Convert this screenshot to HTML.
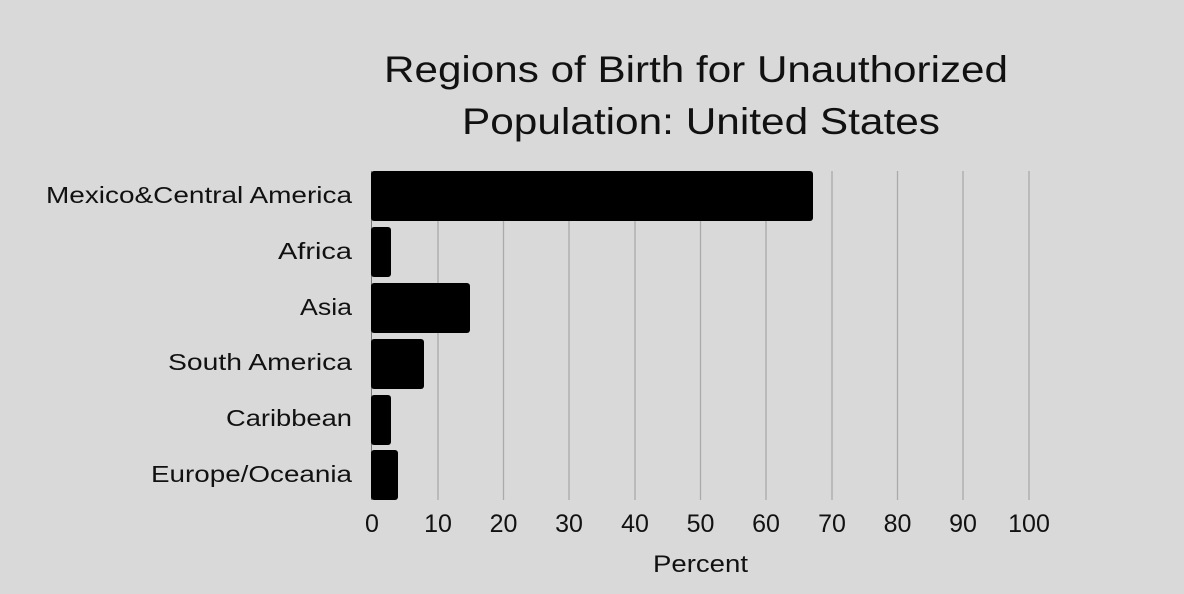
<!DOCTYPE html>
<html><head><style>
body{margin:0;background:#d9d9d9;}
svg{display:block;font-family:"Liberation Sans",sans-serif;}
</style></head><body>
<svg width="1184" height="594" viewBox="0 0 1184 594">
<rect width="1184" height="594" fill="#d9d9d9"/>
<text x="384" y="82" font-size="37" fill="#111" textLength="624" lengthAdjust="spacingAndGlyphs">Regions of Birth for Unauthorized</text>
<text x="462" y="134" font-size="37" fill="#111" textLength="478" lengthAdjust="spacingAndGlyphs">Population: United States</text>
<g stroke="#aaa" stroke-width="1.3">
<line x1="438" y1="171" x2="438" y2="500"/>
<line x1="503.5" y1="171" x2="503.5" y2="500"/>
<line x1="569" y1="171" x2="569" y2="500"/>
<line x1="635" y1="171" x2="635" y2="500"/>
<line x1="700.5" y1="171" x2="700.5" y2="500"/>
<line x1="766" y1="171" x2="766" y2="500"/>
<line x1="832" y1="171" x2="832" y2="500"/>
<line x1="897.5" y1="171" x2="897.5" y2="500"/>
<line x1="963" y1="171" x2="963" y2="500"/>
<line x1="1029" y1="171" x2="1029" y2="500"/>
</g>
<line x1="371.5" y1="171" x2="371.5" y2="500" stroke="#777" stroke-width="1"/>
<g fill="#000">
<rect x="371" y="171" width="442" height="50" rx="3"/>
<rect x="371" y="227" width="20" height="50" rx="3"/>
<rect x="371" y="283" width="99" height="50" rx="3"/>
<rect x="371" y="339" width="53" height="50" rx="3"/>
<rect x="371" y="395" width="20" height="50" rx="3"/>
<rect x="371" y="450" width="27" height="50" rx="3"/>
</g>
<g font-size="23" fill="#111" lengthAdjust="spacingAndGlyphs">
<text x="46" y="203" textLength="306" lengthAdjust="spacingAndGlyphs">Mexico&amp;Central America</text>
<text x="278" y="259" textLength="74" lengthAdjust="spacingAndGlyphs">Africa</text>
<text x="300" y="315" textLength="52" lengthAdjust="spacingAndGlyphs">Asia</text>
<text x="168" y="370" textLength="184" lengthAdjust="spacingAndGlyphs">South America</text>
<text x="226" y="426" textLength="126" lengthAdjust="spacingAndGlyphs">Caribbean</text>
<text x="151" y="482" textLength="201" lengthAdjust="spacingAndGlyphs">Europe/Oceania</text>
</g>
<g font-size="25" fill="#111" text-anchor="middle">
<text x="372" y="532">0</text>
<text x="438" y="532">10</text>
<text x="503.5" y="532">20</text>
<text x="569" y="532">30</text>
<text x="635" y="532">40</text>
<text x="700.5" y="532">50</text>
<text x="766" y="532">60</text>
<text x="832" y="532">70</text>
<text x="897.5" y="532">80</text>
<text x="963" y="532">90</text>
<text x="1029" y="532">100</text>
</g>
<text x="653" y="572" font-size="24" fill="#111" textLength="95" lengthAdjust="spacingAndGlyphs">Percent</text>
</svg>
</body></html>
